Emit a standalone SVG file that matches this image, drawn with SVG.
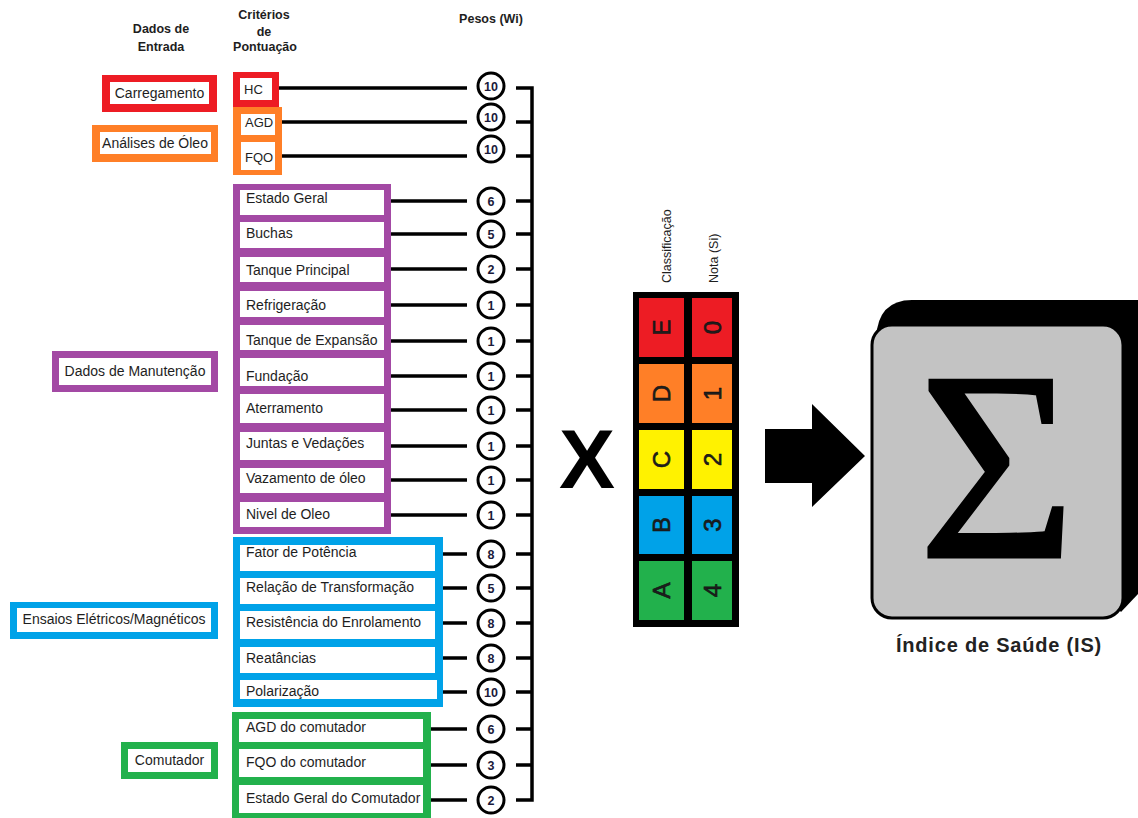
<svg xmlns="http://www.w3.org/2000/svg" width="1138" height="818" viewBox="0 0 1138 818">
  <style>
    text{font-family:"Liberation Sans",Arial,sans-serif;fill:#1e1e1e}
    .hd{font-size:12.5px;font-weight:bold;text-anchor:middle}
    .lb{font-size:14px}
    .sm{font-size:13px}
    .lc{font-size:14px;text-anchor:middle}
    .w{fill:#fff}
    .red{fill:#ED1C24}.org{fill:#FF7F27}.pur{fill:#A349A4}.blu{fill:#00A2E8}.grn{fill:#22B14C}.yel{fill:#FFF200}
    .ln{stroke:#000;stroke-width:3.5;fill:none}
    .wc{fill:#fff;stroke:#000;stroke-width:3}
    .wn{font-size:12.5px;font-weight:bold;text-anchor:middle;fill:#1a1a3a}
    .cell{font-size:24px;text-anchor:middle;fill:#111;stroke:#111;stroke-width:0.6}
    .vh{font-size:12.5px}
  </style>

  <!-- column headings -->
  <g id="headings">
    <text class="hd" x="161" y="33">Dados de</text>
    <text class="hd" x="161" y="51">Entrada</text>
    <text class="hd" x="264" y="19">Critérios</text>
    <text class="hd" x="264" y="36">de</text>
    <text class="hd" x="265" y="51">Pontuação</text>
    <text class="hd" x="491" y="23">Pesos (Wi)</text>
  </g>

  <!-- input data groups -->
  <g id="in-carregamento">
    <rect class="red" x="102" y="75" width="115" height="37"/>
    <rect class="w" x="110" y="82" width="99" height="22"/>
    <text class="lc" x="159.5" y="98">Carregamento</text>
  </g>
  <g id="in-analises">
    <rect class="org" x="92" y="125" width="126" height="37"/>
    <rect class="w" x="100" y="132" width="111" height="22"/>
    <text class="lc" x="155" y="148">Análises de Óleo</text>
  </g>
  <g id="in-manutencao">
    <rect class="pur" x="52" y="351" width="166" height="41"/>
    <rect class="w" x="59" y="358" width="152" height="27"/>
    <text class="lc" x="135" y="376">Dados de Manutenção</text>
  </g>
  <g id="in-ensaios">
    <rect class="blu" x="10" y="602" width="208" height="37"/>
    <rect class="w" x="17" y="608" width="194" height="24"/>
    <text class="lc" x="114" y="624">Ensaios Elétricos/Magnéticos</text>
  </g>
  <g id="in-comutador">
    <rect class="grn" x="121" y="742" width="97" height="37"/>
    <rect class="w" x="128" y="749" width="83" height="23"/>
    <text class="lc" x="169.5" y="765">Comutador</text>
  </g>

  <!-- scoring criteria -->
  <g id="crit-hc">
    <rect class="red" x="233" y="72" width="46" height="35"/>
    <rect class="w" x="240" y="78" width="32" height="22"/>
    <text class="sm" x="244" y="94">HC</text>
  </g>
  <g id="crit-oleo">
    <rect class="org" x="233" y="107" width="49" height="68"/>
    <rect class="w" x="241" y="114" width="34" height="21"/>
    <rect class="w" x="241" y="142" width="34" height="28"/>
    <text class="sm" x="245" y="127">AGD</text>
    <text class="sm" x="245" y="162">FQO</text>
  </g>
  <g id="crit-manutencao">
    <rect class="pur" x="233" y="184" width="158" height="350"/>
    <rect class="w" x="240" y="190" width="144" height="25"/>
    <rect class="w" x="240" y="222" width="144" height="26"/>
    <rect class="w" x="240" y="257" width="144" height="25"/>
    <rect class="w" x="240" y="291" width="144" height="26"/>
    <rect class="w" x="240" y="325" width="144" height="25"/>
    <rect class="w" x="240" y="358" width="144" height="28"/>
    <rect class="w" x="240" y="394" width="144" height="29"/>
    <rect class="w" x="240" y="432" width="144" height="28"/>
    <rect class="w" x="240" y="468" width="144" height="25"/>
    <rect class="w" x="240" y="502" width="144" height="25"/>
    <text class="lb" x="246" y="203">Estado Geral</text>
    <text class="lb" x="246" y="238">Buchas</text>
    <text class="lb" x="246" y="275">Tanque Principal</text>
    <text class="lb" x="246" y="310">Refrigeração</text>
    <text class="lb" x="246" y="345">Tanque de Expansão</text>
    <text class="lb" x="246" y="381">Fundação</text>
    <text class="lb" x="246" y="413">Aterramento</text>
    <text class="lb" x="246" y="448">Juntas e Vedações</text>
    <text class="lb" x="246" y="483">Vazamento de óleo</text>
    <text class="lb" x="246" y="519">Nivel de Oleo</text>
  </g>
  <g id="crit-ensaios">
    <rect class="blu" x="233" y="537" width="210" height="170"/>
    <rect class="w" x="240" y="545" width="195" height="26"/>
    <rect class="w" x="240" y="578" width="195" height="26"/>
    <rect class="w" x="240" y="611" width="195" height="28"/>
    <rect class="w" x="240" y="647" width="195" height="26"/>
    <rect class="w" x="240" y="680" width="197" height="19"/>
    <text class="lb" x="246" y="557">Fator de Potência</text>
    <text class="lb" x="246" y="592">Relação de Transformação</text>
    <text class="lb" x="246" y="627">Resistência do Enrolamento</text>
    <text class="lb" x="246" y="663">Reatâncias</text>
    <text class="lb" x="246" y="696">Polarização</text>
  </g>
  <g id="crit-comutador">
    <rect class="grn" x="232" y="712" width="199" height="106"/>
    <rect class="w" x="239" y="719" width="184" height="23"/>
    <rect class="w" x="239" y="749" width="184" height="28"/>
    <rect class="w" x="239" y="785" width="184" height="28"/>
    <text class="lb" x="246" y="732">AGD do comutador</text>
    <text class="lb" x="246" y="767">FQO do comutador</text>
    <text class="lb" x="246" y="803">Estado Geral do Comutador</text>
  </g>

  <!-- connectors: criterion to weight, weight to summing bracket -->
  <g id="connectors" class="ln">
    <path d="M279 88H467M282 122H467M282 156H467"/>
    <path d="M391 201H467M391 234H467M391 269H467M391 305H467M391 341H467M391 376H467M391 410H467M391 446H467M391 480H467M391 515H467"/>
    <path d="M443 554H467M443 588H467M443 623H467M443 658H467M443 692H467"/>
    <path d="M431 729H467M431 765H467M431 800H467"/>
    <path d="M516 88H532V800H516"/>
    <path d="M516 122H532M516 156H532M516 201H532M516 234H532M516 269H532M516 305H532M516 341H532M516 376H532M516 410H532M516 446H532M516 480H532M516 515H532M516 554H532M516 588H532M516 623H532M516 658H532M516 692H532M516 729H532M516 765H532"/>
  </g>

  <!-- weights -->
  <g id="w-hc"><circle class="wc" cx="491" cy="86" r="13"/><text class="wn" x="491" y="90.5">10</text></g>
  <g id="w-agd"><circle class="wc" cx="491" cy="117" r="13"/><text class="wn" x="491" y="121.5">10</text></g>
  <g id="w-fqo"><circle class="wc" cx="491" cy="149" r="13"/><text class="wn" x="491" y="153.5">10</text></g>
  <g id="w-estado"><circle class="wc" cx="491" cy="201" r="13"/><text class="wn" x="491" y="205.5">6</text></g>
  <g id="w-buchas"><circle class="wc" cx="491" cy="234" r="13"/><text class="wn" x="491" y="238.5">5</text></g>
  <g id="w-tanque"><circle class="wc" cx="491" cy="269" r="13"/><text class="wn" x="491" y="273.5">2</text></g>
  <g id="w-refrig"><circle class="wc" cx="491" cy="305" r="13"/><text class="wn" x="491" y="309.5">1</text></g>
  <g id="w-expansao"><circle class="wc" cx="491" cy="341" r="13"/><text class="wn" x="491" y="345.5">1</text></g>
  <g id="w-fundacao"><circle class="wc" cx="491" cy="376" r="13"/><text class="wn" x="491" y="380.5">1</text></g>
  <g id="w-aterr"><circle class="wc" cx="491" cy="410" r="13"/><text class="wn" x="491" y="414.5">1</text></g>
  <g id="w-juntas"><circle class="wc" cx="491" cy="446" r="13"/><text class="wn" x="491" y="450.5">1</text></g>
  <g id="w-vazam"><circle class="wc" cx="491" cy="480" r="13"/><text class="wn" x="491" y="484.5">1</text></g>
  <g id="w-nivel"><circle class="wc" cx="491" cy="515" r="13"/><text class="wn" x="491" y="519.5">1</text></g>
  <g id="w-fator"><circle class="wc" cx="491" cy="554" r="13"/><text class="wn" x="491" y="558.5">8</text></g>
  <g id="w-relacao"><circle class="wc" cx="491" cy="588" r="13"/><text class="wn" x="491" y="592.5">5</text></g>
  <g id="w-resist"><circle class="wc" cx="491" cy="623" r="13"/><text class="wn" x="491" y="627.5">8</text></g>
  <g id="w-reat"><circle class="wc" cx="491" cy="658" r="13"/><text class="wn" x="491" y="662.5">8</text></g>
  <g id="w-polar"><circle class="wc" cx="491" cy="692" r="13"/><text class="wn" x="491" y="696.5">10</text></g>
  <g id="w-agdc"><circle class="wc" cx="491" cy="729" r="13"/><text class="wn" x="491" y="733.5">6</text></g>
  <g id="w-fqoc"><circle class="wc" cx="491" cy="765" r="13"/><text class="wn" x="491" y="769.5">3</text></g>
  <g id="w-estadoc"><circle class="wc" cx="491" cy="800" r="13"/><text class="wn" x="491" y="804.5">2</text></g>

  <!-- multiplication sign -->
  <g id="times">
    <text x="587" y="488" style="font-size:84px;font-weight:bold;text-anchor:middle;fill:#000">X</text>
  </g>

  <!-- rating table: class letter and score -->
  <g id="rating-table">
    <text class="vh" transform="translate(671,283) rotate(-90)">Classificação</text>
    <text class="vh" transform="translate(718,283) rotate(-90)">Nota (Si)</text>
    <rect x="633" y="292" width="106" height="335" fill="#000"/>
    <rect class="red" x="639" y="298" width="45" height="59"/>
    <rect class="red" x="692" y="298" width="40" height="59"/>
    <rect class="org" x="639" y="364" width="45" height="59"/>
    <rect class="org" x="692" y="364" width="40" height="59"/>
    <rect class="yel" x="639" y="430" width="45" height="59"/>
    <rect class="yel" x="692" y="430" width="40" height="59"/>
    <rect class="blu" x="639" y="496" width="45" height="58"/>
    <rect class="blu" x="692" y="496" width="40" height="58"/>
    <rect class="grn" x="639" y="561" width="45" height="59"/>
    <rect class="grn" x="692" y="561" width="40" height="59"/>
    <g class="cell">
      <text transform="translate(661.5,327.5) rotate(-90)" y="8.5">E</text>
      <text transform="translate(661.5,393.5) rotate(-90)" y="8.5">D</text>
      <text transform="translate(661.5,459.5) rotate(-90)" y="8.5">C</text>
      <text transform="translate(661.5,525) rotate(-90)" y="8.5">B</text>
      <text transform="translate(661.5,590.5) rotate(-90)" y="8.5">A</text>
      <text transform="translate(712,327.5) rotate(-90)" y="8.5">0</text>
      <text transform="translate(712,393.5) rotate(-90)" y="8.5">1</text>
      <text transform="translate(712,459.5) rotate(-90)" y="8.5">2</text>
      <text transform="translate(712,525) rotate(-90)" y="8.5">3</text>
      <text transform="translate(712,590.5) rotate(-90)" y="8.5">4</text>
    </g>
  </g>

  <!-- block arrow -->
  <g id="arrow">
    <polygon points="765,429 812,429 812,404 865,456 812,507 812,483 765,483" fill="#000"/>
  </g>

  <!-- summation block -->
  <g id="sum">
    <path d="M876 338Q878 300 912 300H1138V594L1121 612Z" fill="#000"/>
    <rect x="872" y="325" width="251" height="293" rx="20" fill="#C3C3C3" stroke="#000" stroke-width="3"/>
    <text x="997" y="557" style="font-family:'Liberation Serif','Times New Roman',serif;font-size:270px;text-anchor:middle;fill:#000;stroke:#000;stroke-width:3">Σ</text>
    <text x="999" y="652" style="font-size:20px;font-weight:bold;letter-spacing:0.8px;text-anchor:middle;fill:#222">Índice de Saúde (IS)</text>
  </g>
</svg>
